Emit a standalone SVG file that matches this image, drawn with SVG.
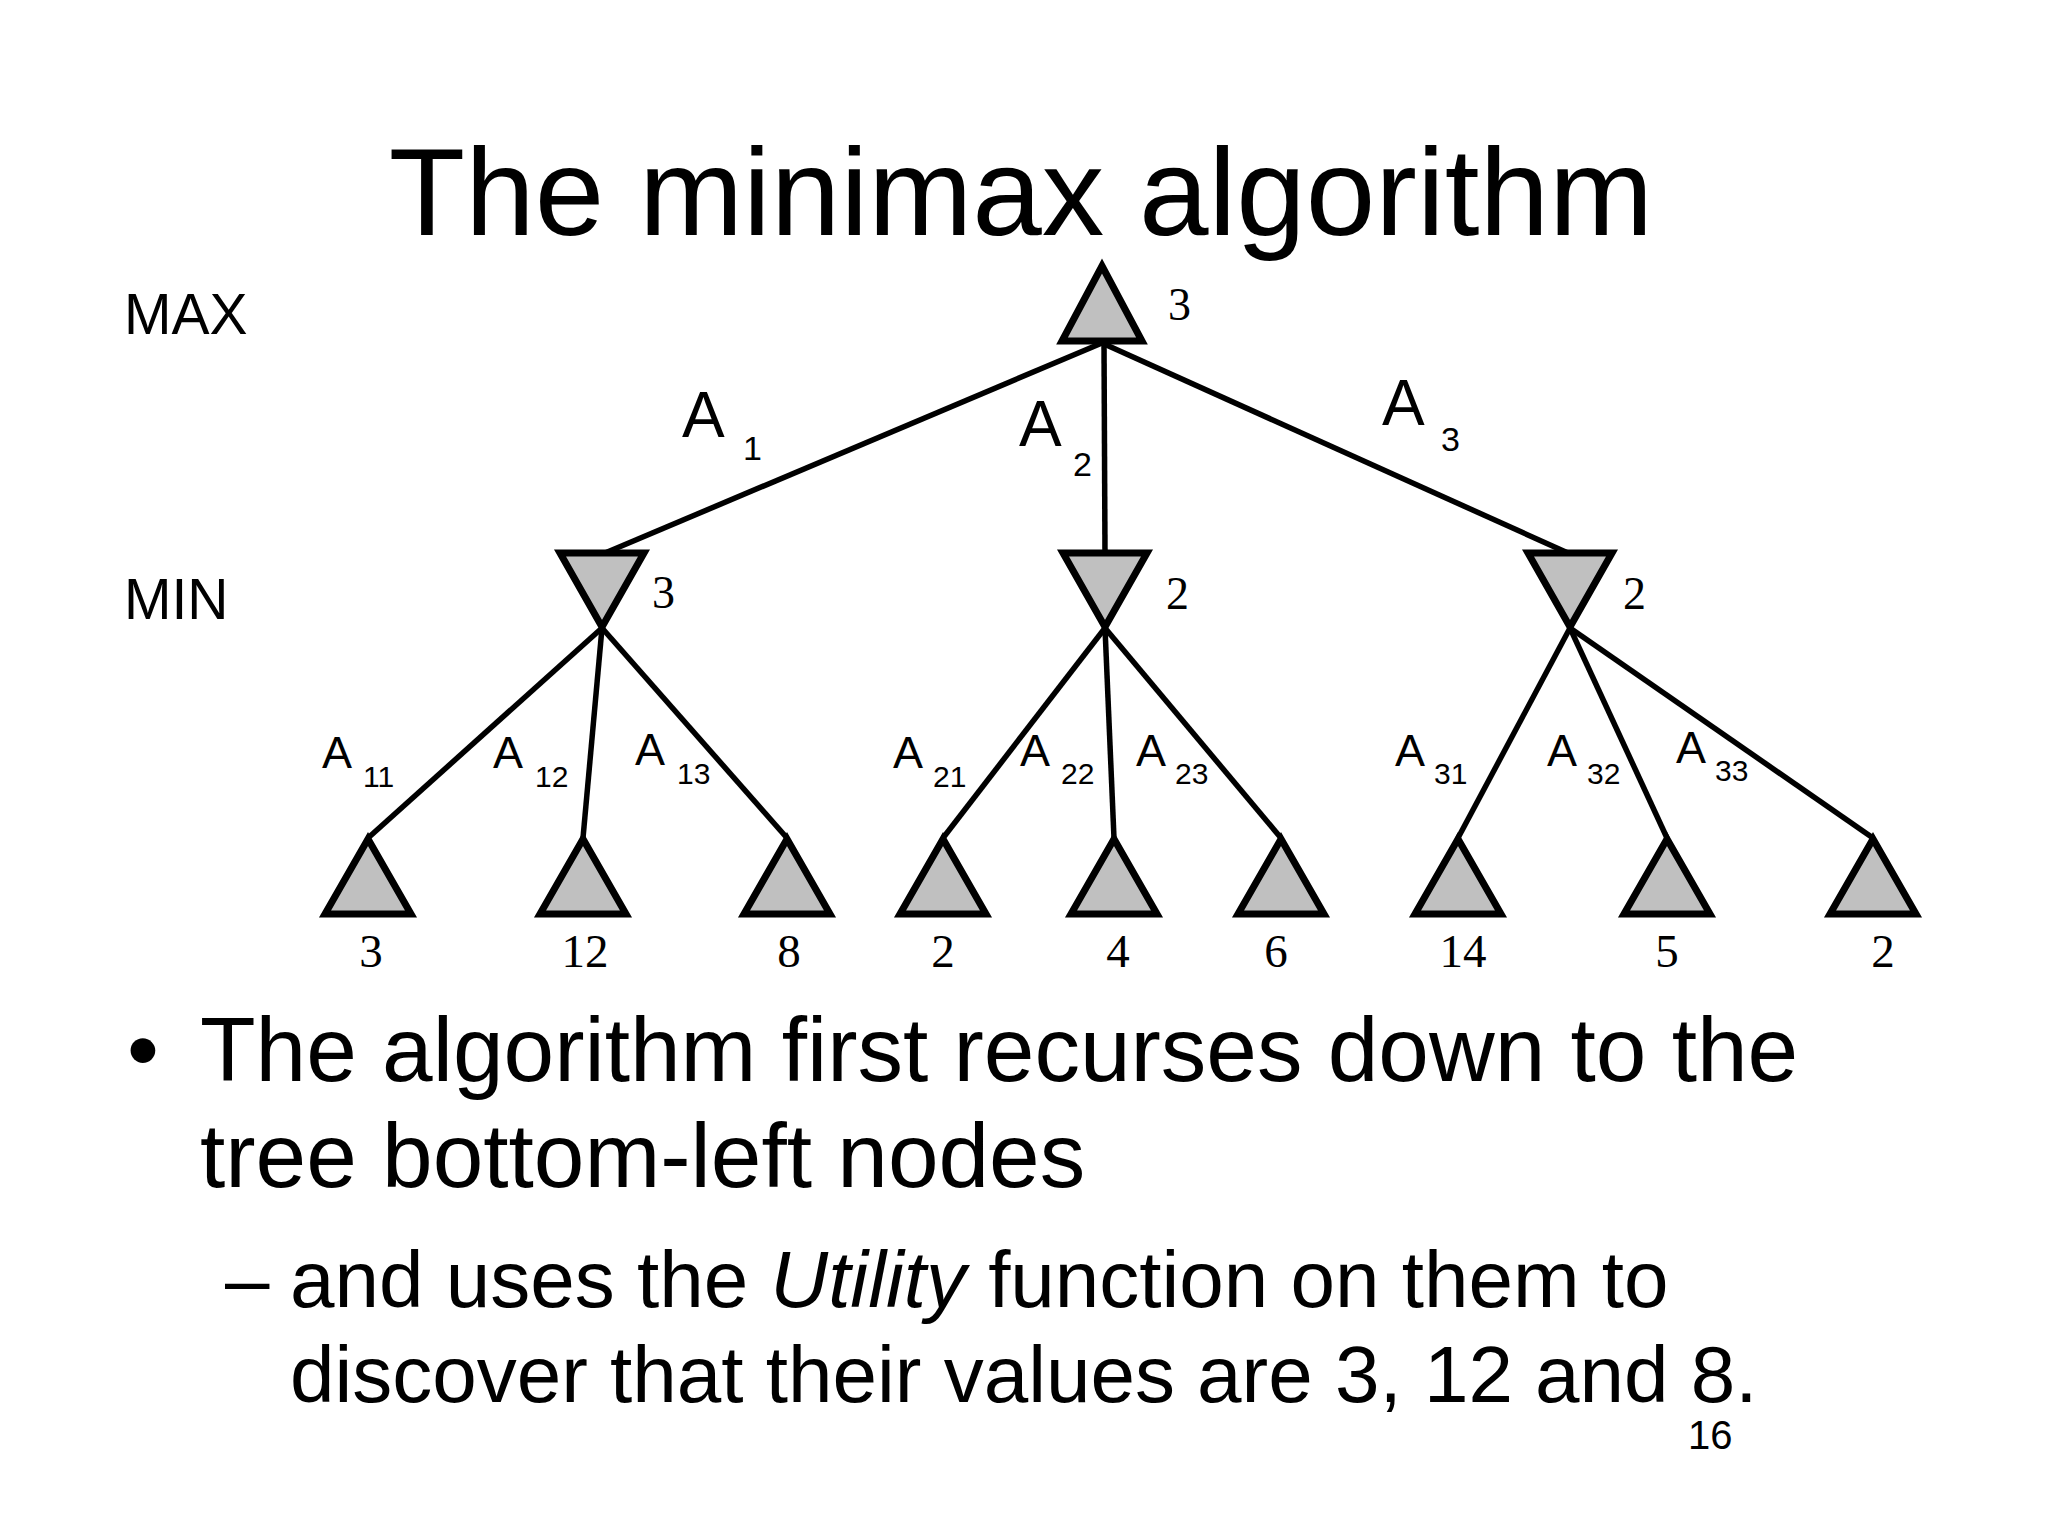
<svg xmlns="http://www.w3.org/2000/svg" width="2048" height="1536" viewBox="0 0 2048 1536">
<style>
.sans{font-family:"Liberation Sans",Arial,sans-serif;fill:#000}
.serif{font-family:"Liberation Serif","Times New Roman",serif;fill:#000}
.tri{fill:#c0c0c0;stroke:#000;stroke-width:7;stroke-linejoin:miter}
.edge{stroke:#000;stroke-width:5.5;fill:none;stroke-linecap:butt}
.val{font-size:46px}
.leafv{font-size:47px;text-anchor:middle}
.bigA{font-size:64px}
.bigS{font-size:34px}
.smA{font-size:45px}
.smS{font-size:30px}
</style>
<rect width="2048" height="1536" fill="#fff"/>
<text class="sans" x="1021" y="235" font-size="125" text-anchor="middle">The minimax algorithm</text>
<text class="sans" x="124" y="334" font-size="57">MAX</text>
<text class="sans" x="124" y="619" font-size="57">MIN</text>
<g id="connectors">
<line class="edge" x1="1102" y1="343" x2="605" y2="553"/>
<line class="edge" x1="1104" y1="343" x2="1105" y2="553"/>
<line class="edge" x1="1102" y1="343" x2="1568" y2="553"/>
<line class="edge" x1="602" y1="628" x2="368" y2="838"/>
<line class="edge" x1="602" y1="628" x2="583" y2="838"/>
<line class="edge" x1="602" y1="628" x2="787" y2="838"/>
<line class="edge" x1="1105" y1="628" x2="943" y2="838"/>
<line class="edge" x1="1105" y1="628" x2="1114" y2="838"/>
<line class="edge" x1="1105" y1="628" x2="1281" y2="838"/>
<line class="edge" x1="1570" y1="628" x2="1458" y2="838"/>
<line class="edge" x1="1570" y1="628" x2="1667" y2="838"/>
<line class="edge" x1="1570" y1="628" x2="1873" y2="838"/>
<text class="sans bigA" x="682" y="437">A</text><text class="sans bigS" x="743" y="460">1</text>
<text class="sans bigA" x="1019" y="446">A</text><text class="sans bigS" x="1073" y="476">2</text>
<text class="sans bigA" x="1382" y="425">A</text><text class="sans bigS" x="1441" y="451">3</text>
<text class="sans smA" x="322" y="768">A</text><text class="sans smS" x="363" y="787">11</text>
<text class="sans smA" x="493" y="768">A</text><text class="sans smS" x="535" y="787">12</text>
<text class="sans smA" x="635" y="765">A</text><text class="sans smS" x="677" y="784">13</text>
<text class="sans smA" x="893" y="768">A</text><text class="sans smS" x="933" y="787">21</text>
<text class="sans smA" x="1020" y="766">A</text><text class="sans smS" x="1061" y="784">22</text>
<text class="sans smA" x="1136" y="766">A</text><text class="sans smS" x="1175" y="784">23</text>
<text class="sans smA" x="1395" y="766">A</text><text class="sans smS" x="1434" y="784">31</text>
<text class="sans smA" x="1547" y="766">A</text><text class="sans smS" x="1587" y="784">32</text>
<text class="sans smA" x="1676" y="763">A</text><text class="sans smS" x="1715" y="781">33</text>
</g>
<g id="max-root"><polygon class="tri" points="1102,266 1142,341 1062,341"/><text class="serif val" x="1168" y="320">3</text></g>
<g id="min-1"><polygon class="tri" points="560,553 644,553 602,627"/><text class="serif val" x="652" y="608">3</text></g>
<g id="min-2"><polygon class="tri" points="1063,553 1147,553 1105,627"/><text class="serif val" x="1166" y="609">2</text></g>
<g id="min-3"><polygon class="tri" points="1528,553 1612,553 1570,627"/><text class="serif val" x="1623" y="609">2</text></g>
<g id="leaf-1"><polygon class="tri" points="368,839 411,914 325,914"/><text class="serif leafv" x="371" y="967">3</text></g>
<g id="leaf-2"><polygon class="tri" points="583,839 626,914 540,914"/><text class="serif leafv" x="585" y="967">12</text></g>
<g id="leaf-3"><polygon class="tri" points="787,839 830,914 744,914"/><text class="serif leafv" x="789" y="967">8</text></g>
<g id="leaf-4"><polygon class="tri" points="943,839 986,914 900,914"/><text class="serif leafv" x="943" y="967">2</text></g>
<g id="leaf-5"><polygon class="tri" points="1114,839 1157,914 1071,914"/><text class="serif leafv" x="1118" y="967">4</text></g>
<g id="leaf-6"><polygon class="tri" points="1281,839 1324,914 1238,914"/><text class="serif leafv" x="1276" y="967">6</text></g>
<g id="leaf-7"><polygon class="tri" points="1458,839 1501,914 1415,914"/><text class="serif leafv" x="1463" y="967">14</text></g>
<g id="leaf-8"><polygon class="tri" points="1667,839 1710,914 1624,914"/><text class="serif leafv" x="1667" y="967">5</text></g>
<g id="leaf-9"><polygon class="tri" points="1873,839 1916,914 1830,914"/><text class="serif leafv" x="1883" y="967">2</text></g>
<g id="body">
<text class="sans" x="127" y="1081" font-size="91">•</text>
<text class="sans" x="200" y="1081" font-size="91">The algorithm first recurses down to the</text>
<text class="sans" x="200" y="1187" font-size="91">tree bottom-left nodes</text>
<text class="sans" x="225" y="1307" font-size="80">–</text>
<text class="sans" x="290" y="1307" font-size="80">and uses the <tspan font-style="italic">Utility</tspan> function on them to</text>
<text class="sans" x="290" y="1402" font-size="80">discover that their values are 3, 12 and 8.</text>
<text class="sans" x="1688" y="1449" font-size="40">16</text>
</g>
</svg>
